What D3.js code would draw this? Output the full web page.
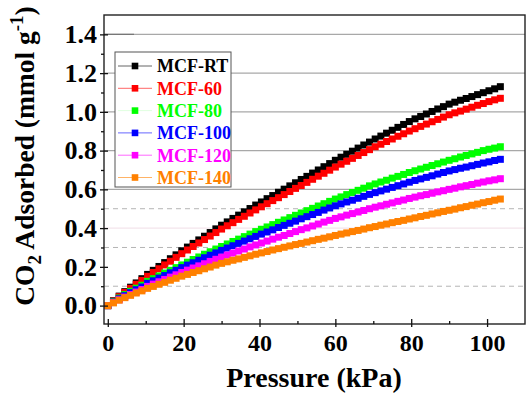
<!DOCTYPE html>
<html>
<head>
<meta charset="utf-8">
<script src="https://cdn.jsdelivr.net/npm/d3@7"></script>
<style>
  body { margin: 0; background: #fff; }
  svg { display: block; }
  svg text { font-family: "Liberation Serif", "Times New Roman", Times, "DejaVu Serif", serif !important; font-weight: bold; }
</style>
</head>
<body>
<svg id="chart" width="529" height="397"></svg>
<script>
// ---------------- data ----------------
const pressure = [0,1.5,3,4.5,6,7.5,9,10.5,12,13.5,15,16.5,18,19.5,21,22.5,24,25.5,27,28.5,30,31.5,33,34.5,36,37.5,39,40.5,42,43.5,45,46.5,48,49.5,51,52.5,54,55.5,57,58.5,60,61.5,63,64.5,66,67.5,69,70.5,72,73.5,75,76.5,78,79.5,81,82.5,84,85.5,87,88.5,90,91.5,93,94.5,96,97.5,99,100.5,102,103.5];

const seriesNames = ["MCF-RT", "MCF-60", "MCF-80", "MCF-100", "MCF-120", "MCF-140"];
const seriesColors = ["#000000", "#ff0000", "#00ff00", "#0000ff", "#ff00ff", "#ff8000"];

const mcfRT = [0,.025,.049,.072,.095,.117,.139,.161,.182,.202,.222,.242,.262,.283,.302,.321,.339,.358,.377,.396,.415,.432,.450,.467,.484,.501,.519,.535,.552,.568,.585,.601,.618,.634,.651,.667,.684,.700,.717,.733,.750,.766,.781,.797,.813,.829,.844,.860,.875,.890,.905,.920,.935,.950,.964,.976,.989,1.002,1.015,1.027,1.040,1.050,1.060,1.069,1.079,1.089,1.099,1.109,1.119,1.130];
const mcf60 = [0,.023,.046,.068,.089,.110,.130,.151,.171,.190,.210,.229,.249,.268,.287,.305,.323,.341,.359,.377,.395,.412,.428,.445,.461,.478,.494,.510,.526,.542,.557,.573,.589,.605,.620,.636,.652,.668,.683,.699,.715,.730,.745,.760,.775,.790,.805,.820,.833,.847,.860,.874,.887,.901,.913,.925,.937,.949,.961,.973,.985,.995,1.004,1.014,1.024,1.034,1.043,1.053,1.062,1.070];
const mcf80 = [0,.020,.039,.057,.074,.090,.105,.125,.139,.153,.168,.182,.196,.210,.224,.238,.251,.265,.278,.292,.305,.318,.331,.343,.356,.369,.382,.394,.406,.418,.430,.442,.454,.466,.478,.490,.502,.514,.526,.538,.550,.561,.573,.584,.595,.606,.618,.628,.638,.647,.658,.667,.677,.687,.696,.705,.714,.723,.732,.741,.750,.758,.767,.775,.783,.791,.800,.807,.813,.820];
const mcf100 = [0,.018,.035,.051,.067,.082,.096,.115,.128,.142,.155,.169,.182,.196,.209,.221,.234,.247,.260,.272,.285,.297,.309,.321,.333,.345,.357,.369,.380,.391,.403,.414,.425,.436,.448,.459,.470,.481,.493,.504,.515,.525,.535,.544,.554,.564,.574,.583,.592,.601,.610,.619,.628,.637,.646,.654,.662,.670,.679,.687,.695,.702,.709,.715,.722,.729,.736,.742,.749,.755];
const mcf120 = [0,.016,.030,.044,.057,.070,.083,.099,.111,.123,.135,.147,.159,.171,.183,.194,.205,.216,.228,.239,.250,.261,.271,.282,.292,.303,.313,.323,.333,.343,.353,.362,.372,.382,.392,.401,.411,.421,.431,.440,.450,.458,.467,.475,.483,.491,.500,.508,.515,.523,.530,.538,.545,.553,.560,.567,.573,.580,.587,.593,.600,.606,.613,.619,.625,.632,.638,.644,.649,.655];
const mcf140 = [0,.014,.028,.041,.053,.065,.076,.089,.099,.110,.120,.131,.141,.152,.161,.171,.180,.190,.199,.209,.218,.226,.234,.241,.249,.257,.265,.272,.279,.287,.294,.301,.308,.315,.321,.328,.335,.342,.348,.355,.362,.369,.375,.382,.388,.395,.402,.408,.415,.421,.428,.434,.440,.447,.453,.460,.466,.473,.479,.486,.492,.498,.505,.511,.518,.524,.531,.537,.544,.550];

const seriesValues = [mcfRT, mcf60, mcf80, mcf100, mcf120, mcf140];

const yMajorTicks = [0, 0.2, 0.4, 0.6, 0.8, 1.0, 1.2, 1.4];
const yMinorTicks = [0.1, 0.3, 0.5, 0.7, 0.9, 1.1, 1.3];
const xMajorTicks = [0, 20, 40, 60, 80, 100];
const xMinorTicks = [10, 30, 50, 70, 90];
const solidGrid = [0.6, 0.8, 1.0, 1.2, 1.4];
const faintGrid = [0.4];
const dashedGrid = [0.1, 0.3, 0.5];

// ---------------- layout ----------------
const FONT = "'Liberation Serif', 'Times New Roman', Times, 'DejaVu Serif', serif";
const svg = d3.select("#chart");
const L = 104, R = 525, T = 15, B = 324;
const x = d3.scaleLinear().domain([-1, 110]).range([L, R]);
const y = d3.scaleLinear().domain([-0.095, 1.5]).range([B, T]);

svg.append("rect").attr("width", 529).attr("height", 397).attr("fill", "#fff");

// gridlines
const grid = svg.append("g");
grid.selectAll("line.solid").data(solidGrid).join("line")
  .attr("class", "solid")
  .attr("x1", L).attr("x2", R).attr("y1", d => y(d)).attr("y2", d => y(d))
  .attr("stroke", "#a8a8a8").attr("stroke-width", 1.3);
grid.selectAll("line.faint").data(faintGrid).join("line")
  .attr("class", "faint")
  .attr("x1", L).attr("x2", R).attr("y1", d => y(d)).attr("y2", d => y(d))
  .attr("stroke", "#f0dde6").attr("stroke-width", 1);
grid.selectAll("line.dash").data(dashedGrid).join("line")
  .attr("class", "dash")
  .attr("x1", L).attr("x2", R).attr("y1", d => y(d)).attr("y2", d => y(d))
  .attr("stroke", "#b4b4b4").attr("stroke-width", 1).attr("stroke-dasharray", "5,4");
grid.append("line").attr("x1", L).attr("x2", L + 30).attr("y1", y(1.4)).attr("y2", y(1.4))
  .attr("stroke", "#777").attr("stroke-width", 1.3);

// series
const plot = svg.append("g");
const line = d3.line().x((d, i) => x(pressure[i])).y(d => y(d));
const ms = 7;
seriesValues.forEach((vals, si) => {
  plot.append("path").datum(vals).attr("d", line)
    .attr("fill", "none").attr("stroke", seriesColors[si]).attr("stroke-width", 1);
  plot.append("g").selectAll("rect").data(vals).join("rect")
    .attr("x", (d, i) => x(pressure[i]) - ms / 2)
    .attr("y", d => y(d) - ms / 2)
    .attr("width", ms).attr("height", ms)
    .attr("fill", seriesColors[si]);
});

// frame
svg.append("rect").attr("x", L).attr("y", T).attr("width", R - L).attr("height", B - T)
  .attr("fill", "none").attr("stroke", "#222").attr("stroke-width", 1.4);

// axes
function styleAxis(size) {
  return g => {
    g.attr("font-family", FONT).attr("font-weight", "bold").attr("font-size", size);
    g.select(".domain").remove();
    g.selectAll(".tick line").attr("stroke", "#111").attr("stroke-width", 1.3);
    g.selectAll(".tick text").attr("fill", "#000").style("font-size", size + "px");
  };
}
svg.append("g").attr("transform", `translate(${L},0)`)
  .call(d3.axisLeft(y).tickValues(yMajorTicks).tickSize(4).tickPadding(3).tickFormat(d3.format(".1f")))
  .call(styleAxis(26));
svg.append("g").attr("transform", `translate(${L},0)`)
  .call(d3.axisRight(y).tickValues(yMajorTicks).tickSize(4).tickFormat(""))
  .call(styleAxis(26));
svg.append("g").attr("transform", `translate(${L},0)`)
  .call(d3.axisLeft(y).tickValues(yMinorTicks).tickSize(3).tickFormat(""))
  .call(styleAxis(26));

svg.append("g").attr("transform", `translate(0,${B})`)
  .call(d3.axisBottom(x).tickValues(xMajorTicks).tickSizeInner(-5).tickSizeOuter(0).tickPadding(10).tickFormat(d3.format("d")))
  .call(styleAxis(24));
svg.append("g").attr("transform", `translate(0,${B})`)
  .call(d3.axisBottom(x).tickValues(xMajorTicks).tickSize(3).tickFormat(""))
  .call(styleAxis(24));
svg.append("g").attr("transform", `translate(0,${B})`)
  .call(d3.axisBottom(x).tickValues(xMinorTicks).tickSizeInner(-3).tickSizeOuter(0).tickFormat(""))
  .call(styleAxis(24));

// axis titles
svg.append("text").attr("x", 314).attr("y", 387).attr("text-anchor", "middle")
  .attr("font-family", FONT).attr("font-weight", "bold")
  .attr("font-size", 28).text("Pressure (kPa)");

const yt = svg.append("text").attr("transform", "translate(34,156) rotate(-90)")
  .attr("text-anchor", "middle").attr("font-family", FONT).attr("font-weight", "bold")
  .attr("font-size", 27.5);
yt.append("tspan").text("CO");
yt.append("tspan").attr("dy", 7).attr("font-size", 19).text("2");
yt.append("tspan").attr("dy", -7).text(" Adsorbed (mmol g");
yt.append("tspan").attr("dy", -11).attr("font-size", 19).text("-1");
yt.append("tspan").attr("dy", 11).text(")");

// legend
const leg = svg.append("g").attr("font-family", FONT).attr("font-weight", "bold");
leg.append("rect").attr("x", 115).attr("y", 52).attr("width", 116).attr("height", 135)
  .attr("fill", "#fff").attr("stroke", "#555").attr("stroke-width", 1);
seriesNames.forEach((name, i) => {
  const cy = 66 + i * 22.3;
  leg.append("line").attr("x1", 118).attr("x2", 152).attr("y1", cy).attr("y2", cy)
    .attr("stroke", seriesColors[i]).attr("stroke-width", 1)
    .attr("stroke-opacity", i === 2 ? 0.12 : 0.6);
  leg.append("rect").attr("x", 135 - 3.3).attr("y", cy - 3.3).attr("width", 6.6).attr("height", 6.6)
    .attr("fill", seriesColors[i]);
  leg.append("text").attr("x", 157).attr("y", cy).attr("dy", "0.35em")
    .attr("fill", seriesColors[i]).attr("font-size", 18).text(name);
});
</script>
</body>
</html>
